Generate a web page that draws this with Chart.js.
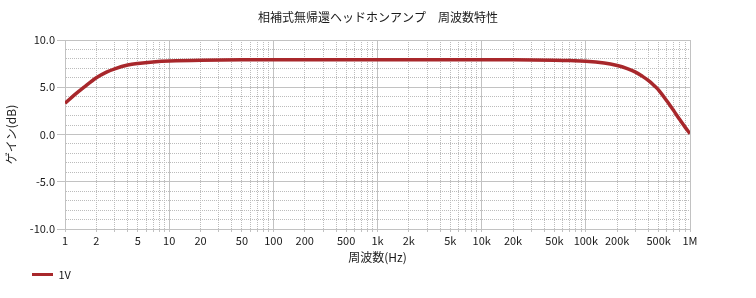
<!DOCTYPE html>
<html><head><meta charset="utf-8">
<script src="https://cdn.jsdelivr.net/npm/chart.js@4/dist/chart.umd.min.js"></script>
<style>html,body{margin:0;padding:0;background:#fff}#wrap{width:756px;height:298px}</style>
</head><body><div id="wrap"><canvas id="c" width="756" height="298"></canvas></div>
<script>
const chartTitle = '相補式無帰還ヘッドホンアンプ　周波数特性';
const xTitle = '周波数(Hz)';
const yTitle = 'ゲイン(dB)';
const seriesName = '1V';
const freqs = [1, 1.25, 1.5, 2, 2.5, 3, 4, 5, 7, 10, 20, 50, 100, 200, 500, 1000, 2000, 5000, 10000, 20000, 50000, 70000, 100000, 150000, 200000, 250000, 300000, 350000, 400000, 450000, 500000, 600000, 700000, 800000, 900000, 1000000];
const gains = [3.3, 4.25, 4.95, 6.0, 6.6, 6.95, 7.35, 7.52, 7.68, 7.78, 7.86, 7.9, 7.9, 7.9, 7.9, 7.9, 7.9, 7.9, 7.9, 7.9, 7.86, 7.82, 7.76, 7.57, 7.3, 6.97, 6.6, 6.15, 5.7, 5.2, 4.7, 3.55, 2.5, 1.55, 0.75, 0.1];
const xTickLabels = {1:'1',2:'2',5:'5',10:'10',20:'20',50:'50',100:'100',200:'200',500:'500',1000:'1k',2000:'2k',5000:'5k',10000:'10k',20000:'20k',50000:'50k',100000:'100k',200000:'200k',500000:'500k',1000000:'1M'};
const yMin = -10, yMax = 10;

const FONT = '"Noto Sans CJK JP", "Noto Sans", sans-serif';
const TXT = '#1a1a1a';
const MAJ = '#c2c2c2';
const MIN = '#bcbcbc';
const LINE = '#a8272b';

function isDecade(v){ const l = Math.log10(v); return Math.abs(l - Math.round(l)) < 1e-9; }

const layoutTweak = {
  id: 'layoutTweak',
  afterLayout(chart){
    if (chart.legend) { chart.legend.left = 28; }
    if (chart.titleBlock) { chart.titleBlock.left = 0; chart.titleBlock.right = 756; }
  }
};

new Chart(document.getElementById('c'), {
  type: 'line',
  data: {
    datasets: [{
      label: seriesName,
      data: freqs.map((f,i)=>({x:f, y:gains[i]})),
      borderColor: LINE,
      backgroundColor: LINE,
      borderWidth: 3.5,
      pointRadius: 0,
      tension: 0.35,
      fill: false
    }]
  },
  options: {
    responsive: false,
    animation: false,
    devicePixelRatio: 1,
    layout: { padding: { left: 0, right: 66, top: 0, bottom: 8 } },
    plugins: {
      title: { display: true, text: chartTitle, color: TXT, font: { family: FONT, size: 12, weight: 'normal' }, padding: { top: 10, bottom: 15.6 } },
      legend: {
        display: true, position: 'bottom', align: 'start',
        labels: {
          boxWidth: 21, boxHeight: 3, padding: 4, color: TXT, font: { family: FONT, size: 11 },
          generateLabels(chart){
            return chart.data.datasets.map((ds, i) => ({
              text: ds.label, fillStyle: LINE, strokeStyle: LINE, lineWidth: 0,
              hidden: false, datasetIndex: i, fontColor: TXT
            }));
          }
        }
      },
      tooltip: { enabled: false }
    },
    scales: {
      x: {
        type: 'logarithmic', min: 1, max: 1000000,
        afterBuildTicks(scale){
          const t = [];
          for (let e = 0; e < 6; e++) for (let d = 1; d <= 9; d++) t.push({ value: d * Math.pow(10, e) });
          t.push({ value: 1000000 });
          scale.ticks = t;
        },
        afterFit(scale){ scale.height = 36; },
        ticks: {
          autoSkip: false, maxRotation: 0, padding: 2, color: TXT, font: { family: FONT, size: 11 },
          callback(v){ return xTickLabels[Math.round(v)] || ''; }
        },
        grid: {
          color: (ctx) => isDecade(ctx.tick.value) ? MAJ : MIN,
          lineWidth: 1, tickLength: 3, tickColor: MAJ
        },
        border: { display: true, color: MAJ, dash: (ctx) => (ctx.tick && !isDecade(ctx.tick.value)) ? [1, 1] : [] },
        title: { display: true, text: xTitle, color: TXT, font: { family: FONT, size: 12 }, padding: { top: 0, bottom: 0 } }
      },
      y: {
        type: 'linear', min: yMin, max: yMax,
        afterFit(scale){ scale.width = 65; },
        ticks: {
          stepSize: 1, autoSkip: false, padding: 2, color: TXT, font: { family: FONT, size: 11 },
          callback(v){ return (v % 5 === 0) ? v.toFixed(1) : ''; }
        },
        grid: {
          color: (ctx) => (ctx.tick.value % 5 === 0) ? MAJ : MIN,
          lineWidth: 1, tickLength: 8,
          tickColor: (ctx) => (ctx.tick.value % 5 === 0) ? MAJ : 'rgba(0,0,0,0)'
        },
        border: { display: true, color: MAJ, dash: (ctx) => (ctx.tick && ctx.tick.value % 5 !== 0) ? [1, 1] : [] },
        title: { display: true, text: yTitle, color: TXT, font: { family: FONT, size: 12 }, padding: { top: 4, bottom: 0 } }
      }
    }
  },
  plugins: [layoutTweak]
});
</script></body></html>
